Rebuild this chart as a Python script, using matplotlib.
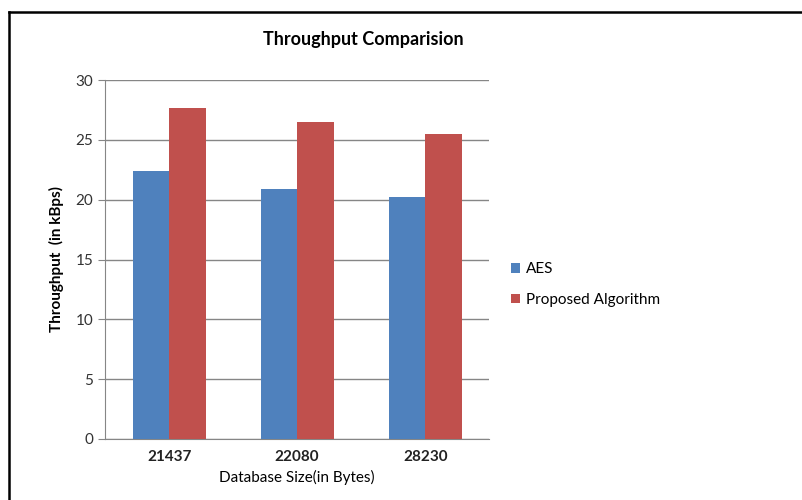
import numpy as np
import matplotlib
matplotlib.use("Agg")
import matplotlib.pyplot as plt
from matplotlib.lines import Line2D

sizes = ["21437", "22080", "28230"]
aes = [22.4, 20.9, 20.2]
proposed = [27.7, 26.5, 25.5]
series_names = ["AES", "Proposed Algorithm"]
yticks = [0, 5, 10, 15, 20, 25, 30]

plt.rcParams["font.family"] = ["Lato", "DejaVu Sans"]

fig = plt.figure(figsize=(8.02, 5.0), dpi=100)
ax = fig.add_axes([0.131, 0.122, 0.479, 0.718])

x = np.arange(len(sizes))
w = 0.285
ax.bar(x - w / 2, aes, w, color="#4F81BD", label=series_names[0], zorder=3)
ax.bar(x + w / 2, proposed, w, color="#C0504D", label=series_names[1], zorder=3)

ax.set_xlim(-0.5, 2.5)
ax.set_ylim(0, 30)
ax.set_yticks(yticks)
ax.set_xticks(x)
ax.set_xticklabels(sizes, fontsize=11, fontweight="bold", color="#222222")
ax.tick_params(axis="y", labelsize=11, colors="#333333", length=5, color="#868686")
ax.tick_params(axis="x", length=0, pad=8)
ax.yaxis.grid(True, color="#868686", linewidth=1.0, zorder=0)

for s in ["top", "right"]:
    ax.spines[s].set_visible(False)
ax.spines["left"].set_color("#868686")
ax.spines["bottom"].set_color("#868686")

fig.text(0.453, 0.92, "Throughput Comparision", fontsize=13, fontweight="bold",
         ha="center", va="center")
ax.set_ylabel("Throughput  (in kBps)", fontsize=11, fontweight="bold", labelpad=8)
ax.set_xlabel("Database Size(in Bytes)", fontsize=11, labelpad=4)

ax.legend(loc="center left", bbox_to_anchor=(1.02, 0.43), frameon=False,
          fontsize=11, handlelength=0.6, handleheight=0.6, handletextpad=0.4,
          labelspacing=1.1)

# partial frame: only top and left edges visible in the original crop
fig.add_artist(Line2D([0.011, 1.0], [0.976, 0.976], transform=fig.transFigure,
                      color="black", linewidth=1.8))
fig.add_artist(Line2D([0.011, 0.011], [0.0, 0.976], transform=fig.transFigure,
                      color="black", linewidth=1.8))

fig.savefig("out.png", dpi=100)
